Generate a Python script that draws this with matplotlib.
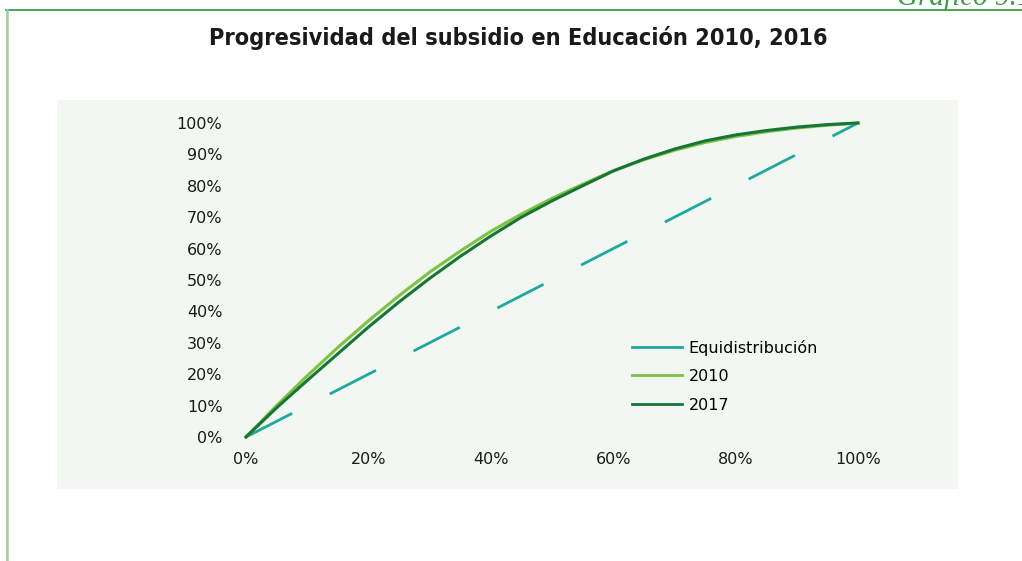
import matplotlib
matplotlib.use("Agg")
import matplotlib.pyplot as plt
from matplotlib.patches import Rectangle
from matplotlib.lines import Line2D
from matplotlib.ticker import PercentFormatter

# Curva de concentración del subsidio (población acumulada vs subsidio acumulado)
poblacion = [0.00, 0.05, 0.10, 0.15, 0.20, 0.25, 0.30, 0.35, 0.40, 0.45, 0.50,
             0.55, 0.60, 0.65, 0.70, 0.75, 0.80, 0.85, 0.90, 0.95, 1.00]
subsidio_2010 = [0.000, 0.100, 0.195, 0.285, 0.370, 0.450, 0.525, 0.592, 0.655, 0.710, 0.760,
                 0.805, 0.848, 0.883, 0.913, 0.938, 0.957, 0.972, 0.984, 0.993, 1.000]
subsidio_2017 = [0.000, 0.093, 0.180, 0.265, 0.350, 0.430, 0.505, 0.575, 0.640, 0.700, 0.752,
                 0.800, 0.847, 0.885, 0.917, 0.943, 0.962, 0.976, 0.987, 0.995, 1.000]
equidistribucion = [0.0, 1.0]
ticks = [0.0, 0.2, 0.4, 0.6, 0.8, 1.0]
ticks_y = [0.0, 0.1, 0.2, 0.3, 0.4, 0.5, 0.6, 0.7, 0.8, 0.9, 1.0]

W, H = 1022, 561
fig = plt.figure(figsize=(W / 100, H / 100), dpi=100)
fig.patch.set_facecolor("white")

verde_marco = "#3E9B4A"

# marco de la página
fig.add_artist(Line2D([6 / W, 1], [1 - 9.5 / H, 1 - 9.5 / H], color=verde_marco, lw=1.3,
                      transform=fig.transFigure))
fig.add_artist(Line2D([7 / W, 7 / W], [0, 1 - 9.5 / H], color="#9FCB9F", lw=1.8,
                      transform=fig.transFigure))
fig.text(897 / W, 1 - 5 / H, "Gráfico 9.1", color=verde_marco, fontsize=21,
         family="Liberation Serif", style="italic", ha="left", va="baseline")

# fondo del gráfico
fig.add_artist(Rectangle((57 / W, 1 - 489 / H), 901 / W, 389 / H, transform=fig.transFigure,
                         facecolor="#F3F7F2", edgecolor="none", zorder=0))

fig.text(518 / W, 1 - 38 / H, "Progresividad del subsidio en Educación 2010, 2016",
         ha="center", va="center", fontsize=16.8, fontweight="bold", color="#1a1a1a",
         family="DejaVu Sans", fontstretch="condensed")

ax = fig.add_axes([246 / W, 1 - 437 / H, 612 / W, 314 / H])
ax.patch.set_alpha(0)

ax.plot(equidistribucion, equidistribucion, color="#1FA8A0", lw=2, dashes=(18.7, 15.2),
        label="Equidistribución", clip_on=False)
ax.plot(poblacion, subsidio_2010, color="#7DC242", lw=2.2, label="2010", clip_on=False)
ax.plot(poblacion, subsidio_2017, color="#17753A", lw=2.2, label="2017", clip_on=False)

ax.set_xlim(0, 1)
ax.set_ylim(0, 1)
ax.set_xticks(ticks)
ax.set_yticks(ticks_y)
ax.xaxis.set_major_formatter(PercentFormatter(1.0, decimals=0))
ax.yaxis.set_major_formatter(PercentFormatter(1.0, decimals=0))
ax.tick_params(length=0, labelsize=11.5, labelcolor="#1a1a1a")
ax.tick_params(axis="y", pad=17)
ax.tick_params(axis="x", pad=11)
for s in ax.spines.values():
    s.set_visible(False)

leg = ax.legend(loc="center left", bbox_to_anchor=(0.631, 0.194), frameon=False,
                prop={"size": 11.5},
                handlelength=3.1, handletextpad=0.45, labelspacing=0.85,
                borderpad=0, borderaxespad=0)
for h in leg.get_lines():
    h.set_dashes((None, None))
    h.set_linestyle("-")
    h.set_linewidth(2)

fig.savefig("out.png", dpi=100)
